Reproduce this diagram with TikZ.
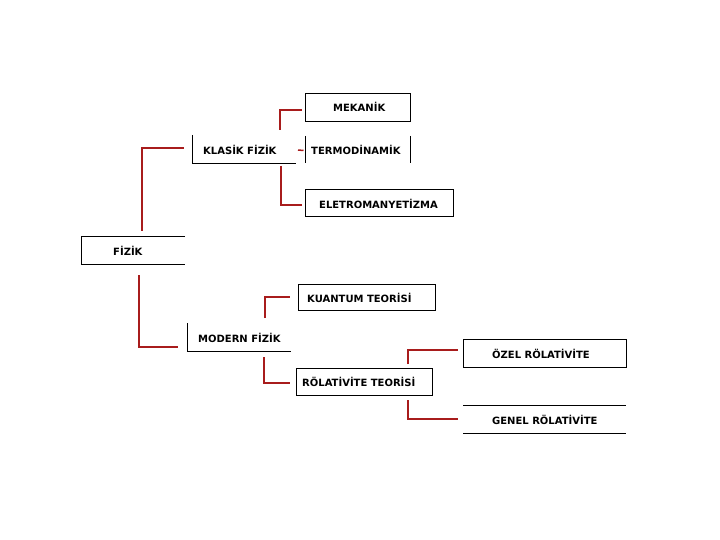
\documentclass[tikz,border=0pt]{standalone}
\usepackage{fontspec}
\setmainfont{DejaVu Sans}
\usetikzlibrary{calc}
\definecolor{conred}{HTML}{A81C1C}
\tikzset{
  frame/.style={draw=none, minimum width=#1, inner sep=0pt, outer sep=0pt},
  edge/.style={draw=black, line width=0.9pt},
  con/.style={draw=conred, line width=1.8pt},
  lbl/.style={font=\bfseries\fontsize{10}{12}\selectfont, anchor=west, inner sep=0pt},
}
\begin{document}
\begin{tikzpicture}[x=1pt,y=-1pt]
\useasboundingbox (0,0) rectangle (720,540);
% frames
\node[frame=104pt, minimum height=28pt] (fizik) at (133,250) {};
\node[frame=104pt, minimum height=28pt] (klasik) at (244,149) {};
\node[frame=105pt, minimum height=28pt] (mekanik) at (357.5,107) {};
\node[frame=105pt, minimum height=27pt] (termo) at (357.5,149.5) {};
\node[frame=148pt, minimum height=27pt] (eletro) at (379,202.5) {};
\node[frame=104pt, minimum height=28pt] (modern) at (239,337) {};
\node[frame=137pt, minimum height=26pt] (kuantum) at (366.5,297) {};
\node[frame=136pt, minimum height=27pt] (rolat) at (364,381.5) {};
\node[frame=163pt, minimum height=28pt] (ozel) at (544.5,353) {};
\node[frame=163pt, minimum height=28pt] (genel) at (544.5,419) {};
% frame edges
\draw[edge] (fizik.north east) -- (fizik.north west) -- (fizik.south west) -- (fizik.south east);
\draw[edge] (klasik.north west) -- (klasik.south west) -- (klasik.south east);
\draw[edge] (mekanik.north west) rectangle (mekanik.south east);
\draw[edge] (termo.north west) -- (termo.south west);
\draw[edge] (termo.north east) -- (termo.south east);
\draw[edge] (eletro.north west) rectangle (eletro.south east);
\draw[edge] (modern.north west) -- (modern.south west) -- (modern.south east);
\draw[edge] (kuantum.north west) rectangle (kuantum.south east);
\draw[edge] (rolat.north west) rectangle (rolat.south east);
\draw[edge] (ozel.north west) rectangle (ozel.south east);
\draw[edge] (genel.north west) -- (genel.north east);
\draw[edge] (genel.south west) -- (genel.south east);
% labels
\node[lbl] (tfizik) at (113,251) {FİZİK};
\node[lbl] (tklasik) at (203,150) {KLASİK FİZİK};
\node[lbl] (tmekanik) at (333,107) {MEKANİK};
\node[lbl] (ttermo) at (311,150) {TERMODİNAMİK};
\node[lbl] (teletro) at (319,204) {ELETROMANYETİZMA};
\node[lbl] (tmodern) at (198,338) {MODERN FİZİK};
\node[lbl] (tkuantum) at (307,298) {KUANTUM TEORİSİ};
\node[lbl] (trolat) at (302,382) {RÖLATİVİTE TEORİSİ};
\node[lbl] (tozel) at (492,354) {ÖZEL RÖLATİVİTE};
\node[lbl] (tgenel) at (492,420) {GENEL RÖLATİVİTE};
% connectors
\draw[con] ([xshift=61pt,yshift=5pt]fizik.north west) |- ([xshift=-8pt,yshift=1pt]klasik.west);
\draw[con] ([xshift=58pt,yshift=-11pt]fizik.south west) |- ([xshift=-9pt,yshift=-10pt]modern.west);
\draw[con] ([xshift=88pt,yshift=5pt]klasik.north west) |- ([xshift=-3pt,yshift=-3pt]mekanik.west);
\draw[con, line width=1.5pt] ([xshift=2pt,yshift=-1pt]klasik.east) -- ([xshift=-1.5pt,yshift=-1pt]termo.west);
\draw[con] ([xshift=89pt,yshift=-3pt]klasik.south west) |- ([xshift=-3pt,yshift=-2.5pt]eletro.west);
\draw[con] ([xshift=78pt,yshift=5pt]modern.north west) |- ([xshift=-8pt]kuantum.west);
\draw[con] ([xshift=77pt,yshift=-6pt]modern.south west) |- ([xshift=-6pt,yshift=-1.5pt]rolat.west);
\draw[con] ([xshift=112pt,yshift=4pt]rolat.north west) |- ([xshift=-5pt,yshift=3pt]ozel.west);
\draw[con] ([xshift=112pt,yshift=-5pt]rolat.south west) |- ([xshift=-5pt]genel.west);
\end{tikzpicture}
\end{document}
